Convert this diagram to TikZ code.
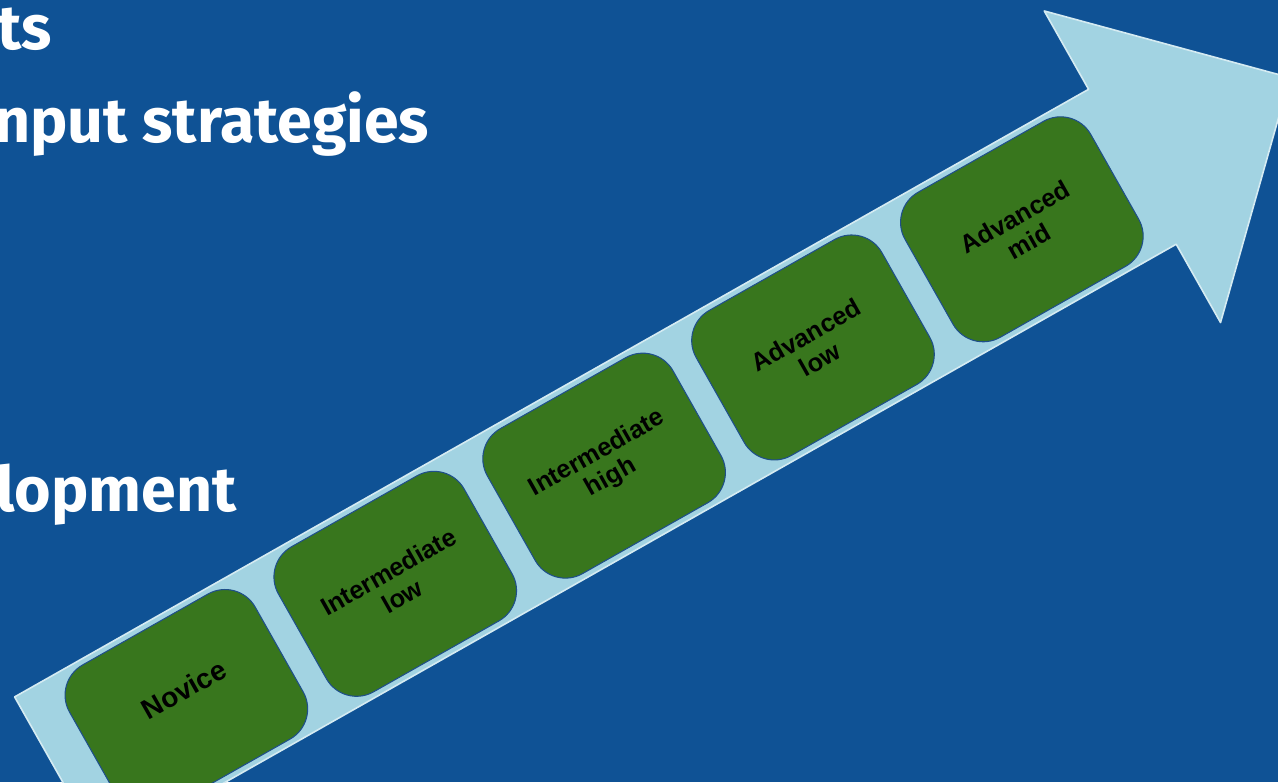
\documentclass[tikz,border=0pt]{standalone}
\usepackage{fontspec}
\setmainfont{Liberation Sans}
\newfontfamily\titlefont{Fira Sans}
\usetikzlibrary{positioning}
\definecolor{bgblue}{HTML}{0F5295}
\definecolor{arrowblue}{HTML}{A2D3E2}
\definecolor{stagegreen}{HTML}{38761D}
\definecolor{stageline}{HTML}{1F4F8A}

\begin{document}
\begin{tikzpicture}[x=0.75pt,y=0.75pt,
  stage/.style={draw=stageline, line width=0.8pt, fill=stagegreen, rounded corners=26pt,
    minimum width=160pt, minimum height=125pt, align=center, text=black,
    font=\fontsize{19}{21}\selectfont\bfseries},
  heading/.style={anchor=base west, text=white, inner sep=0pt,
    font=\titlefont\fontsize{47}{50}\selectfont\bfseries}]
        % background, picture is 1278 x 782
        \fill [bgblue] (0,0) rectangle (1278,782);
        \useasboundingbox (0,0) rectangle (1278,782);
        \clip (0,0) rectangle (1278,782);

        % Text Node
        \node [heading] (ts) at (-3,732) {ts};
        % Text Node
        \node [heading] (strat) at (-6,639) {nput strategies};
        % Text Node
        \node [heading] (devel) at (-4,270) {lopment};

        % the arrow and the stages on it
        \begin{scope}[shift={(346.5,170.6)}, rotate=29.5, transform shape]
        \draw [fill=arrowblue, draw=white!55!arrowblue, line width=1.2pt, line join=round]
          (-331,89) -- (903,89) -- (903,179) -- (1084,0) -- (903,-179) -- (903,-89) -- (-331,-89) -- cycle ;
        \node [stage] (novice) at (-184,0) {};
        \node [font=\fontsize{21}{23}\selectfont\bfseries] (novicetext) at (-180,12) {Novice};
        \node [stage] (intlow) at (56,0) {Intermediate\\low};
        \node [stage] (inthigh) at (296,0) {Intermediate\\high};
        \node [stage] (advlow) at (536,0) {Advanced\\low};
        \node [stage] (advmid) at (776,0) {Advanced\\mid};
        \end{scope}
\end{tikzpicture}
\end{document}
